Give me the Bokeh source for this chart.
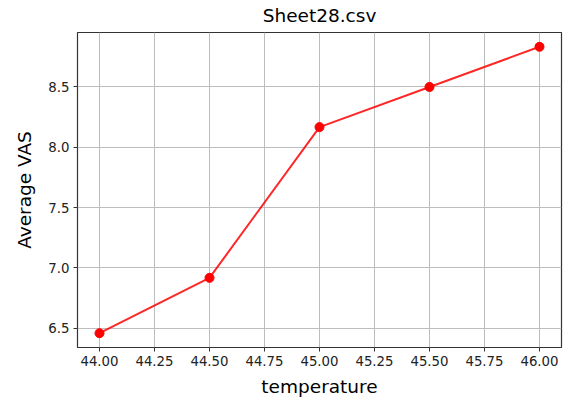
from bokeh.plotting import figure
from bokeh.embed import file_html
from bokeh.resources import INLINE
from bokeh.models import FixedTicker, CustomJSTickFormatter, Range1d

temperature = [44.0, 44.5, 45.0, 45.5, 46.0]
avg_vas = [6.458, 6.917, 8.167, 8.5, 8.833]
x_ticks = [44.0, 44.25, 44.5, 44.75, 45.0, 45.25, 45.5, 45.75, 46.0]
y_ticks = [6.5, 7.0, 7.5, 8.0, 8.5]

FONT = "DejaVu Sans"

p = figure(width=563, height=401, output_backend="svg", toolbar_location=None,
           title="Sheet28.csv",
           x_range=Range1d(43.9, 46.1), y_range=Range1d(6.3395, 8.9515),
           min_border_left=77, min_border_top=32, min_border_right=2, min_border_bottom=54)

p.title.text_font = FONT
p.title.text_font_size = "18.5px"
p.title.text_font_style = "normal"
p.title.align = "center"
p.title.vertical_align = "top"
p.title.text_color = "#000000"
p.title.standoff = 9

p.line(temperature, avg_vas, line_color="#ff0000", line_width=2, line_alpha=0.85)
p.scatter(temperature, avg_vas, size=9, fill_color="#ff0000", line_color="#ff0000")

p.xaxis.ticker = FixedTicker(ticks=x_ticks)
p.yaxis.ticker = FixedTicker(ticks=y_ticks)
p.xaxis.formatter = CustomJSTickFormatter(code="return tick.toFixed(2);")
p.yaxis.formatter = CustomJSTickFormatter(code="return tick.toFixed(1);")

for ax in (p.xaxis[0], p.yaxis[0]):
    ax.major_label_text_font = FONT
    ax.major_label_text_font_size = "13.3px"
    ax.major_label_text_color = "#222222"
    ax.axis_label_text_font = FONT
    ax.axis_label_text_font_size = "18.5px"
    ax.axis_label_text_font_style = "normal"
    ax.axis_label_text_color = "#000000"
    ax.major_tick_in = 0
    ax.major_tick_out = 4
    ax.minor_tick_in = 0
    ax.minor_tick_out = 0
    ax.major_label_standoff = 4
    ax.axis_line_color = None
    ax.major_tick_line_color = "#333333"

p.xaxis.axis_label = "temperature"
p.yaxis.axis_label = "Average VAS"
p.xaxis.axis_label_standoff = 7
p.yaxis.axis_label_standoff = 10

p.grid.grid_line_color = "#bdbdbd"
p.grid.grid_line_width = 1
p.outline_line_color = "#333333"
p.outline_line_width = 1.2
p.outline_line_alpha = 1

open("out.html", "w").write(file_html(p, INLINE))
